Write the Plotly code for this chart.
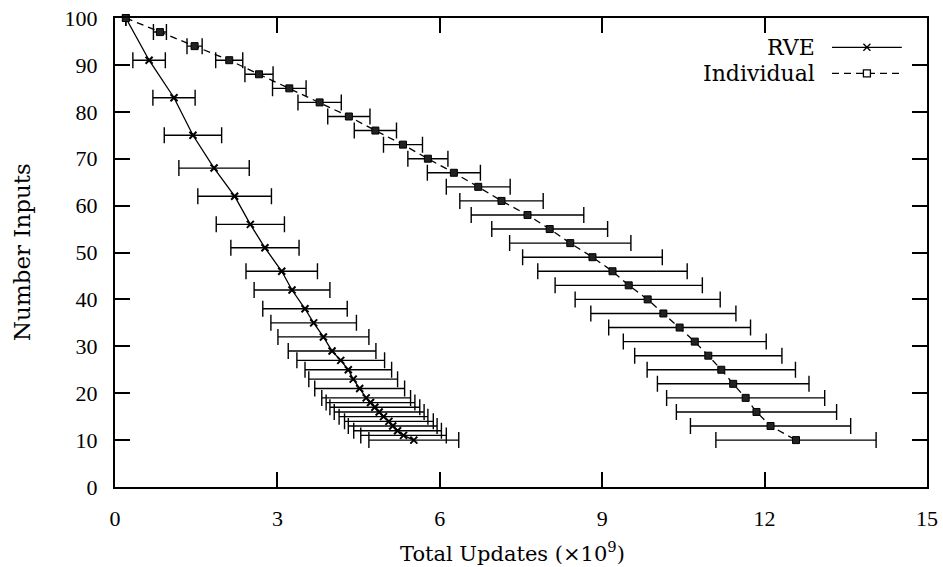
import plotly.graph_objects as go

# ---- data (x in units of 1e9 updates) ----
rve_inputs = [100, 91, 83, 75, 68, 62, 56, 51, 46, 42, 38, 35, 32, 29, 27, 25, 23, 21,
              19, 18, 17, 16, 15, 14, 13, 12, 11, 10]
rve_updates = [0.20, 0.63, 1.09, 1.44, 1.83, 2.21, 2.50, 2.77, 3.08, 3.27, 3.51, 3.67,
               3.85, 4.01, 4.17, 4.31, 4.40, 4.52, 4.64, 4.72, 4.80, 4.88, 4.96, 5.06,
               5.13, 5.22, 5.33, 5.52]
rve_err = [0.0, 0.30, 0.39, 0.53, 0.65, 0.68, 0.63, 0.63, 0.66, 0.70, 0.78, 0.79,
           0.84, 0.81, 0.81, 0.80, 0.82, 0.83, 0.82, 0.82, 0.83, 0.83, 0.82, 0.82,
           0.82, 0.81, 0.79, 0.83]

ind_inputs = [100, 97, 94, 91, 88, 85, 82, 79, 76, 73, 70, 67, 64, 61, 58, 55, 52, 49,
              46, 43, 40, 37, 34, 31, 28, 25, 22, 19, 16, 13, 10]
ind_updates = [0.20, 0.83, 1.47, 2.11, 2.66, 3.22, 3.78, 4.32, 4.81, 5.32, 5.78, 6.26,
               6.71, 7.14, 7.62, 8.03, 8.41, 8.82, 9.19, 9.49, 9.84, 10.13, 10.43,
               10.71, 10.96, 11.20, 11.42, 11.65, 11.85, 12.11, 12.58]
ind_err = [0.0, 0.12, 0.14, 0.25, 0.26, 0.31, 0.40, 0.39, 0.39, 0.36, 0.37, 0.49, 0.59,
           0.77, 1.04, 1.07, 1.12, 1.29, 1.38, 1.36, 1.34, 1.34, 1.31, 1.32, 1.36, 1.37,
           1.40, 1.46, 1.48, 1.48, 1.48]

x_ticks = [0, 3, 6, 9, 12, 15]
y_ticks = [0, 10, 20, 30, 40, 50, 60, 70, 80, 90, 100]

TICK_FONT = "Liberation Serif"
TEXT_FONT = "DejaVu Serif"

fig = go.Figure()

fig.add_trace(go.Scatter(
    x=rve_updates, y=rve_inputs, name="RVE", mode="lines+markers",
    line=dict(color="black", width=1.3),
    marker=dict(symbol="x-thin", size=7, line=dict(color="black", width=2)),
    error_x=dict(type="data", array=rve_err, visible=True, color="black",
                 thickness=1.4, width=8),
    cliponaxis=False, showlegend=False,
))

fig.add_trace(go.Scatter(
    x=ind_updates, y=ind_inputs, name="Individual", mode="lines+markers",
    line=dict(color="black", width=1.3, dash="7px,5px"),
    marker=dict(symbol="square", size=7, color="#222222",
                line=dict(color="black", width=1)),
    error_x=dict(type="data", array=ind_err, visible=True, color="black",
                 thickness=1.4, width=8),
    cliponaxis=False, showlegend=False,
))

# ---- manual gnuplot-style legend (text left, sample right) ----
shapes = []
annotations = []
x0, x1, xm = 0.883, 0.969, 0.926
y_rve, y_ind = 0.9375, 0.882
shapes.append(dict(type="line", xref="paper", yref="paper", x0=x0, x1=x1, y0=y_rve, y1=y_rve,
                   line=dict(color="black", width=1.3)))
shapes.append(dict(type="line", xref="paper", yref="paper", x0=x0, x1=x1, y0=y_ind, y1=y_ind,
                   line=dict(color="black", width=1.3, dash="7px,5px")))
dx, dy = 3.5 / 812, 3.5 / 469
shapes.append(dict(type="line", xref="paper", yref="paper", x0=xm - dx, x1=xm + dx,
                   y0=y_rve - dy, y1=y_rve + dy, line=dict(color="black", width=1.3)))
shapes.append(dict(type="line", xref="paper", yref="paper", x0=xm - dx, x1=xm + dx,
                   y0=y_rve + dy, y1=y_rve - dy, line=dict(color="black", width=1.3)))
shapes.append(dict(type="rect", xref="paper", yref="paper", x0=xm - dx, x1=xm + dx,
                   y0=y_ind - dy, y1=y_ind + dy, fillcolor="white",
                   line=dict(color="black", width=1.3)))
for label, yy in (("RVE", y_rve), ("Individual", y_ind)):
    annotations.append(dict(text=label, xref="paper", yref="paper", x=0.864, y=yy,
                            xanchor="right", yanchor="middle", showarrow=False,
                            font=dict(family=TEXT_FONT, size=22, color="black")))

# axis titles as annotations for exact placement
annotations.append(dict(text="Total Updates (×10<sup>9</sup>)", xref="paper", yref="paper",
                        x=0.489, y=-0.139, xanchor="center", yanchor="middle",
                        showarrow=False, font=dict(family=TEXT_FONT, size=21, color="black")))
annotations.append(dict(text="Number Inputs", xref="paper", yref="paper",
                        x=-0.1145, y=0.501, xanchor="center", yanchor="middle", textangle=-90,
                        showarrow=False, font=dict(family=TEXT_FONT, size=23, color="black")))

axis_common = dict(
    showline=True, linecolor="black", linewidth=2, mirror="allticks",
    ticks="inside", ticklen=15, tickwidth=2, tickcolor="black",
    showgrid=False, zeroline=False, automargin=False,
    tickfont=dict(family=TICK_FONT, size=22, color="black"),
)

fig.update_layout(
    width=943, height=567,
    margin=dict(l=115, r=16, t=18, b=80),
    paper_bgcolor="white", plot_bgcolor="white",
    font=dict(family=TICK_FONT, size=22, color="black"),
    xaxis=dict(range=[0, 15], tickvals=x_ticks, ticktext=[str(v) for v in x_ticks],
               ticklabelstandoff=11, **axis_common),
    yaxis=dict(range=[0, 100], tickvals=y_ticks, ticktext=[str(v) for v in y_ticks],
               ticklabelstandoff=11, **axis_common),
    shapes=shapes, annotations=annotations,
)

fig.write_html("out.html", config={"displayModeBar": False},
               post_script="document.body.style.margin='0px';document.body.style.overflow='hidden';")
